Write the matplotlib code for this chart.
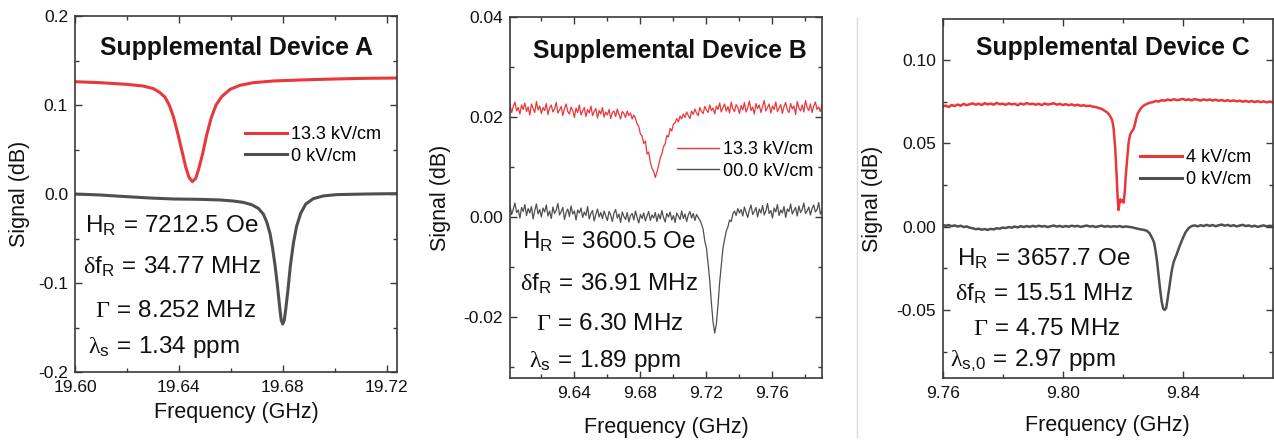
import numpy as np
import matplotlib
matplotlib.use("Agg")
import matplotlib.pyplot as plt
from matplotlib.ticker import MultipleLocator, FormatStrFormatter
from matplotlib.lines import Line2D

plt.rcParams["font.family"] = ["Liberation Sans", "DejaVu Sans"]
plt.rcParams["axes.unicode_minus"] = False
plt.rcParams["mathtext.fontset"] = "custom"
plt.rcParams["mathtext.rm"] = "Liberation Serif"
plt.rcParams["mathtext.sf"] = "Liberation Sans"
plt.rcParams["mathtext.it"] = "Liberation Sans:italic"
plt.rcParams["mathtext.bf"] = "Liberation Sans:bold"

# ---------------- Device A ----------------
a_freq_hi = [19.6000, 19.6096, 19.6199, 19.6263, 19.6302, 19.6327, 19.6347, 19.6363,
             19.6379, 19.6394, 19.6411, 19.6426, 19.6439, 19.6452, 19.6465, 19.6477,
             19.6492, 19.6507, 19.6524, 19.6543, 19.6565, 19.6597, 19.6635, 19.6687,
             19.6764, 19.6866, 19.6995, 19.7123, 19.7238]
a_sig_hi = [0.1262, 0.1251, 0.1232, 0.1213, 0.1184, 0.1139, 0.1086, 0.1000,
            0.0869, 0.0700, 0.0494, 0.0307, 0.0187, 0.0139, 0.0176, 0.0288,
            0.0457, 0.0663, 0.0850, 0.1000, 0.1094, 0.1176, 0.1221, 0.1251,
            0.1270, 0.1281, 0.1292, 0.1300, 0.1303]
a_freq_0 = [19.6000, 19.6096, 19.6199, 19.6289, 19.6379, 19.6481, 19.6558, 19.6610,
            19.6648, 19.6680, 19.6706, 19.6725, 19.6738, 19.6751, 19.6761, 19.6771,
            19.6780, 19.6788, 19.6794, 19.6800, 19.6806, 19.6812, 19.6820, 19.6829,
            19.6841, 19.6853, 19.6869, 19.6889, 19.6918, 19.6956, 19.7007, 19.7123,
            19.7238]
a_sig_0 = [0.0000, -0.0011, -0.0030, -0.0045, -0.0056, -0.0060, -0.0067, -0.0079,
           -0.0094, -0.0120, -0.0161, -0.0225, -0.0311, -0.0442, -0.0610, -0.0816,
           -0.1041, -0.1266, -0.1416, -0.1461, -0.1416, -0.1285, -0.1079, -0.0816,
           -0.0554, -0.0367, -0.0217, -0.0112, -0.0052, -0.0022, -0.0007, 0.0000,
           0.0004]
a_labels = ["13.3 kV/cm", "0 kV/cm"]
a_xticks = [19.60, 19.64, 19.68, 19.72]
a_yticks = [-0.2, -0.1, 0.0, 0.1, 0.2]
a_notes = [r"$\mathsf{H_R\,{=}\,7212.5\ Oe}$",
           r"$\mathrm{\delta}\mathsf{f_R\,{=}\,34.77\ MHz}$",
           r"$\mathrm{\Gamma}\mathsf{\,{=}\,8.252\ MHz}$",
           r"$\mathrm{\lambda}_\mathsf{s}\mathsf{\,{=}\,1.34\ ppm}$"]

# ---------------- Device B (sweep 9.601 - 9.790 GHz, 1 MHz step) ----------------
b_sweep = (9.601, 9.790)
b_sig_hi = np.array([
    225, 209, 221, 230, 212, 219, 206, 224, 215, 228,
    211, 220, 204, 226, 217, 209, 231, 214, 222, 207,
    219, 213, 227, 205, 218, 224, 210, 216, 229, 208,
    214, 221, 203, 217, 226, 211, 206, 220, 213, 199,
    218, 209, 224, 204, 212, 219, 201, 215, 208, 222,
    203, 211, 217, 198, 213, 206, 219, 200, 210, 204,
    215, 197, 209, 212, 201, 216, 205, 196, 211, 207,
    199, 212, 203, 208, 196, 204, 197, 186, 181, 166,
    162, 147, 152, 126, 130, 110, 97, 92, 79, 90,
    103, 118, 126, 141, 146, 163, 160, 177, 172, 186,
    188, 197, 190, 202, 196, 206, 199, 210, 203, 197,
    212, 205, 216, 208, 203, 219, 211, 207, 221, 214,
    209, 224, 213, 218, 206, 222, 215, 228, 210, 219,
    226, 212, 221, 208, 230, 216, 211, 225, 219, 207,
    223, 214, 229, 210, 218, 232, 213, 220, 206, 227,
    217, 224, 209, 221, 233, 212, 219, 226, 208, 222,
    215, 230, 211, 218, 225, 207, 221, 229, 214, 209,
    227, 216, 222, 205, 231, 218, 212, 224, 210, 233,
    219, 213, 226, 209, 222, 230, 215, 220, 211, 224]) * 1e-4
b_sig_0 = np.array([
    22, 5, 16, 28, 9, 14, -2, 19, 11, 25,
    3, 17, 8, 21, -4, 13, 26, 6, 15, 0,
    18, 10, 24, 2, 12, -3, 20, 7, 14, 27,
    4, 11, 19, -5, 9, 16, 1, 22, 6, 12,
    -6, 14, 8, 18, -1, 10, 3, 21, -4, 7,
    13, -8, 5, 16, 0, 9, -3, 12, 2, -7,
    11, 4, -9, 8, 15, -2, 6, -11, 10, 1,
    -5, 9, -10, 3, 7, -6, 12, -1, -12, 5,
    -3, 8, -8, 2, 11, -7, 4, -2, 9, -9,
    6, -4, 13, -1, -10, 7, 0, 10, -6, 3,
    -11, 8, 2, -5, 12, -3, 6, -9, 4, 11,
    -2, 7, -7, 5, -1, -6, -14, -25, -48, -62,
    -93, -128, -172, -210, -232, -214, -176, -131, -96, -62,
    -45, -28, -20, -6, -9, 6, 12, 3, 17, 8,
    15, 2, 20, 9, -1, 14, 24, 5, 11, 19,
    0, 16, 8, 23, 4, 12, 27, 7, 13, -2,
    18, 10, 25, 3, 14, 8, 21, -1, 16, 11,
    26, 6, 13, 19, 2, 22, 9, 15, 28, 7,
    12, 20, 4, 17, 24, 10, 15, 29, 6, 13]) * 1e-4
b_labels = ["13.3 kV/cm", "00.0 kV/cm"]
b_xticks = [9.64, 9.68, 9.72, 9.76]
b_yticks = [-0.02, 0.00, 0.02, 0.04]
b_notes = [r"$\mathsf{H_R\,{=}\,3600.5\ Oe}$",
           r"$\mathrm{\delta}\mathsf{f_R\,{=}\,36.91\ MHz}$",
           r"$\mathrm{\Gamma}\mathsf{\,{=}\,6.30\ MHz}$",
           r"$\mathrm{\lambda}_\mathsf{s}\mathsf{\,{=}\,1.89\ ppm}$"]

# ---------------- Device C ----------------
c_freq_hi = [9.760, 9.761, 9.762, 9.763, 9.764, 9.765, 9.766, 9.767, 9.768, 9.769,
             9.770, 9.771, 9.772, 9.773, 9.774, 9.775, 9.776, 9.777, 9.778, 9.779,
             9.780, 9.781, 9.782, 9.783, 9.784, 9.785, 9.786, 9.787, 9.788, 9.789,
             9.790, 9.791, 9.792, 9.793, 9.794, 9.795, 9.796, 9.797, 9.798, 9.799,
             9.800, 9.801, 9.802, 9.803, 9.804, 9.805, 9.806, 9.807, 9.808, 9.809,
             9.810, 9.811, 9.812, 9.813, 9.814, 9.815, 9.8155, 9.816, 9.8165, 9.817,
             9.8175, 9.818, 9.8183, 9.8186, 9.8189, 9.8192, 9.8196, 9.820, 9.8203, 9.8207,
             9.821, 9.8215, 9.822, 9.8225, 9.823, 9.8235, 9.824, 9.8245, 9.825, 9.826,
             9.827, 9.828, 9.829, 9.830, 9.831, 9.832, 9.833, 9.834, 9.835, 9.836,
             9.837, 9.838, 9.839, 9.840, 9.841, 9.842, 9.843, 9.844, 9.845, 9.846,
             9.847, 9.848, 9.849, 9.850, 9.851, 9.852, 9.853, 9.854, 9.855, 9.856,
             9.857, 9.858, 9.859, 9.860, 9.861, 9.862, 9.863, 9.864, 9.865, 9.866,
             9.867, 9.868, 9.869, 9.870]
c_sig_hi = [0.0722, 0.0728, 0.0719, 0.0731, 0.0725, 0.0734, 0.0727, 0.0738, 0.0730, 0.0736,
            0.0741, 0.0733, 0.0739, 0.0731, 0.0742, 0.0735, 0.0740, 0.0733, 0.0744, 0.0736,
            0.0739, 0.0732, 0.0741, 0.0735, 0.0738, 0.0730, 0.0740, 0.0734, 0.0743, 0.0736,
            0.0739, 0.0733, 0.0738, 0.0731, 0.0740, 0.0734, 0.0737, 0.0742, 0.0733, 0.0738,
            0.0731, 0.0736, 0.0730, 0.0735, 0.0728, 0.0733, 0.0726, 0.0730, 0.0724, 0.0727,
            0.0721, 0.0719, 0.0713, 0.0708, 0.0696, 0.0684, 0.0672, 0.0658, 0.0640, 0.0588,
            0.0470, 0.0300, 0.0180, 0.0100, 0.0140, 0.0165, 0.0150, 0.0160, 0.0145, 0.0210,
            0.0300, 0.0410, 0.0510, 0.0555, 0.0572, 0.0582, 0.0610, 0.0650, 0.0680, 0.0710,
            0.0728, 0.0737, 0.0745, 0.0748, 0.0755, 0.0752, 0.0760, 0.0757, 0.0764, 0.0759,
            0.0766, 0.0760, 0.0763, 0.0768, 0.0761, 0.0765, 0.0759, 0.0767, 0.0762, 0.0758,
            0.0765, 0.0760, 0.0764, 0.0758, 0.0763, 0.0757, 0.0761, 0.0755, 0.0760, 0.0754,
            0.0759, 0.0753, 0.0757, 0.0751, 0.0756, 0.0750, 0.0755, 0.0749, 0.0754, 0.0748,
            0.0753, 0.0747, 0.0752, 0.0749]
c_freq_0 = [9.760, 9.761, 9.762, 9.763, 9.764, 9.765, 9.766, 9.767, 9.768, 9.769,
            9.770, 9.771, 9.772, 9.773, 9.774, 9.775, 9.776, 9.777, 9.778, 9.779,
            9.780, 9.781, 9.782, 9.783, 9.784, 9.785, 9.786, 9.787, 9.788, 9.789,
            9.790, 9.791, 9.792, 9.793, 9.794, 9.795, 9.796, 9.797, 9.798, 9.799,
            9.800, 9.801, 9.802, 9.803, 9.804, 9.805, 9.806, 9.807, 9.808, 9.809,
            9.810, 9.811, 9.812, 9.813, 9.814, 9.815, 9.816, 9.817, 9.818, 9.819,
            9.820, 9.821, 9.822, 9.823, 9.824, 9.825, 9.826, 9.827, 9.828, 9.829,
            9.830, 9.8305, 9.831, 9.8315, 9.832, 9.8325, 9.833, 9.8335, 9.834, 9.8345,
            9.835, 9.8355, 9.836, 9.8365, 9.837, 9.838, 9.839, 9.840, 9.841, 9.842,
            9.843, 9.844, 9.845, 9.846, 9.847, 9.848, 9.849, 9.850, 9.851, 9.852,
            9.853, 9.854, 9.855, 9.856, 9.857, 9.858, 9.859, 9.860, 9.861, 9.862,
            9.863, 9.864, 9.865, 9.866, 9.867, 9.868, 9.869, 9.870]
c_sig_0 = [0.0012, 0.0005, 0.0010, 0.0003, 0.0008, 0.0001, 0.0006, -0.0002, 0.0002, -0.0006,
           -0.0009, -0.0015, -0.0012, -0.0018, -0.0014, -0.0019, -0.0013, -0.0016, -0.0009, -0.0012,
           -0.0005, -0.0008, -0.0002, -0.0006, 0.0001, -0.0004, 0.0003, -0.0002, 0.0004, -0.0001,
           0.0005, 0.0000, 0.0006, 0.0001, 0.0004, -0.0002, 0.0003, 0.0007, 0.0001, 0.0005,
           -0.0001, 0.0004, 0.0000, 0.0006, 0.0002, 0.0005, -0.0001, 0.0003, 0.0007, 0.0001,
           0.0004, -0.0002, 0.0003, 0.0006, 0.0000, 0.0004, -0.0001, 0.0003, 0.0000, 0.0004,
           -0.0002, 0.0002, -0.0001, -0.0003, -0.0008, -0.0012, -0.0016, -0.0019, -0.0024, -0.0040,
           -0.0075, -0.0098, -0.0150, -0.0215, -0.0300, -0.0380, -0.0450, -0.0492, -0.0500, -0.0488,
           -0.0430, -0.0370, -0.0305, -0.0250, -0.0212, -0.0165, -0.0115, -0.0070, -0.0032, -0.0008,
           0.0004, 0.0008, 0.0002, 0.0009, 0.0004, 0.0011, 0.0005, 0.0010, 0.0003, 0.0009,
           0.0013, 0.0006, 0.0011, 0.0004, 0.0009, 0.0002, 0.0007, 0.0011, 0.0004, 0.0008,
           0.0001, 0.0006, -0.0001, 0.0004, 0.0008, 0.0002, 0.0006, 0.0003]
c_labels = ["4 kV/cm", "0 kV/cm"]
c_xticks = [9.76, 9.80, 9.84]
c_yticks = [-0.05, 0.00, 0.05, 0.10]
c_notes = [r"$\mathsf{H_R\,{=}\,3657.7\ Oe}$",
           r"$\mathrm{\delta}\mathsf{f_R\,{=}\,15.51\ MHz}$",
           r"$\mathrm{\Gamma}\mathsf{\,{=}\,4.75\ MHz}$",
           r"$\mathrm{\lambda}_\mathsf{s{,}0}\mathsf{\,{=}\,2.97\ ppm}$"]

titles = ["Supplemental Device A", "Supplemental Device B", "Supplemental Device C"]

RED = "#E8383C"
GRAY = "#4F4F4F"
SPINE = "#3A3A3A"

W, H = 1274, 443
fig = plt.figure(figsize=(W / 100, H / 100), dpi=100)


def add_panel(left, top, right, bottom):
    return fig.add_axes([left / W, 1 - bottom / H, (right - left) / W, (bottom - top) / H])


def style(ax, xlim, ylim, xticks, yticks, xminor, yminor, xfmt, yfmt):
    ax.set_xlim(*xlim)
    ax.set_ylim(*ylim)
    ax.set_xticks(xticks)
    ax.set_yticks(yticks)
    ax.xaxis.set_minor_locator(MultipleLocator(xminor))
    ax.yaxis.set_minor_locator(MultipleLocator(yminor))
    ax.xaxis.set_major_formatter(FormatStrFormatter(xfmt))
    ax.yaxis.set_major_formatter(FormatStrFormatter(yfmt))
    ax.tick_params(which="both", direction="in", top=True, right=True,
                   color=SPINE, width=1.0, labelsize=12.5, labelcolor="#111111")
    ax.tick_params(which="major", length=5)
    ax.tick_params(which="minor", length=3)
    ax.tick_params(axis="x", pad=6)
    ax.tick_params(axis="y", pad=5)
    for s in ax.spines.values():
        s.set_color(SPINE)
        s.set_linewidth(1.2)


def annotate(ax, title, title_pos, notes, note_pos, leg_anchor, leg_lw, xlab_y, ylab_x):
    ax.text(title_pos[0], title_pos[1], title, transform=ax.transAxes, ha="center",
            va="baseline", fontsize=17.8, fontweight="bold", color="#111111")
    for txt, (x, y) in zip(notes, note_pos):
        ax.text(x, y, txt, transform=ax.transAxes, ha="left", va="baseline",
                fontsize=17.5, color="#111111")
    leg = ax.legend(loc="upper left", bbox_to_anchor=leg_anchor, frameon=False,
                    fontsize=13, handlelength=2.35, handletextpad=0.2,
                    labelspacing=0.25, borderpad=0, borderaxespad=0)
    for ln in leg.get_lines():
        ln.set_linewidth(leg_lw)
    ax.set_xlabel("Frequency (GHz)", fontsize=15.5, va="center", color="#111111")
    ax.set_ylabel("Signal (dB)", fontsize=15.5, va="center", color="#111111")
    ax.xaxis.set_label_coords(0.5, xlab_y)
    ax.yaxis.set_label_coords(ylab_x, 0.5)


# Panel A
axA = add_panel(75, 16, 397, 372)
axA.plot(a_freq_hi, a_sig_hi, color=RED, lw=2.2, label=a_labels[0])
axA.plot(a_freq_0, a_sig_0, color=GRAY, lw=2.2, label=a_labels[1])
style(axA, (19.60, 19.724), (-0.2, 0.2), a_xticks, a_yticks, 0.02, 0.05, "%.2f", "%.1f")
annotate(axA, titles[0], (0.5, 0.890), a_notes,
         [(0.031, 0.394), (0.025, 0.277), (0.062, 0.155), (0.040, 0.053)],
         (0.528, 0.691), 2.2, -0.115, -0.171)

# Panel B
b_freq = np.linspace(b_sweep[0], b_sweep[1], len(b_sig_hi))
axB = add_panel(510, 17, 822, 378)
axB.plot(b_freq, b_sig_hi, color=RED, lw=0.9, label=b_labels[0])
axB.plot(b_freq, b_sig_0, color=GRAY, lw=0.9, label=b_labels[1])
style(axB, (9.601, 9.790), (-0.0322, 0.04), b_xticks, b_yticks, 0.02, 0.01, "%.2f", "%.2f")
annotate(axB, titles[1], (0.513, 0.886), b_notes,
         [(0.0375, 0.359), (0.032, 0.244), (0.083, 0.133), (0.062, 0.031)],
         (0.534, 0.656), 1.0, -0.136, -0.224)

# Panel C
axC = add_panel(942.7, 19.3, 1272.7, 377.7)
axC.plot(c_freq_hi, c_sig_hi, color=RED, lw=1.8, label=c_labels[0])
axC.plot(c_freq_0, c_sig_0, color=GRAY, lw=1.8, label=c_labels[1])
style(axC, (9.76, 9.87), (-0.0907, 0.1246), c_xticks, c_yticks, 0.02, 0.025, "%.2f", "%.2f")
annotate(axC, titles[2], (0.515, 0.900), c_notes,
         [(0.042, 0.3145), (0.037, 0.217), (0.093, 0.119), (0.022, 0.031)],
         (0.598, 0.637), 2.2, -0.132, -0.214)

# thin divider between the second and third panels
fig.add_artist(Line2D([856.5 / W, 856.5 / W], [1 - 18 / H, 1 - 437 / H],
                      color="#d9d9d9", lw=1.0))

fig.savefig("out.png", dpi=100)
